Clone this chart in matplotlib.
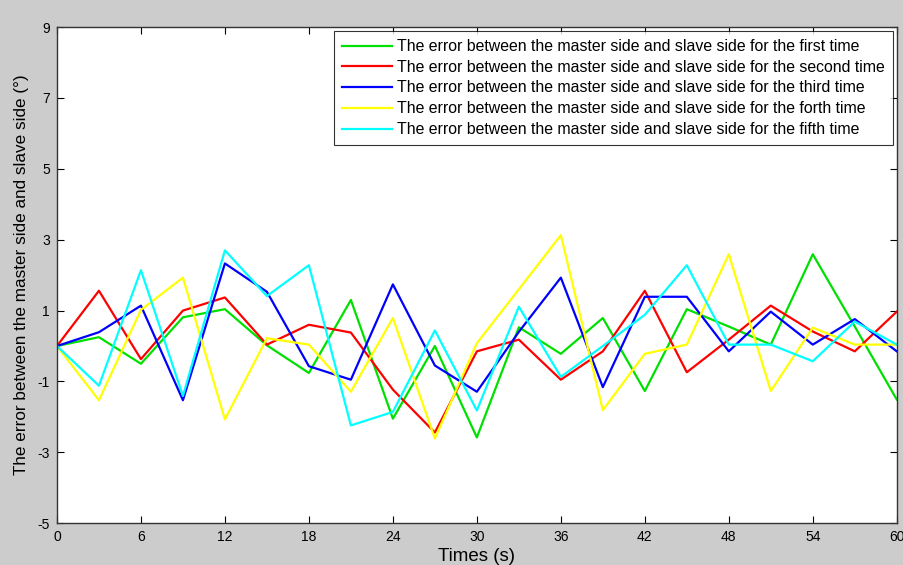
import matplotlib
matplotlib.use("Agg")
import matplotlib.pyplot as plt

plt.rcParams["font.family"] = ["Liberation Sans", "DejaVu Sans"]
plt.rcParams["axes.unicode_minus"] = False

times = [0, 3, 6, 9, 12, 15, 18, 21, 24, 27, 30, 33, 36, 39, 42, 45, 48, 51, 54, 57, 60]

err_first = [0, 0.25, -0.5, 0.81, 1.04, 0.02, -0.76, 1.3, -2.05, 0, -2.58, 0.53, -0.22, 0.79, -1.27,
             1.04, 0.55, 0.04, 2.59, 0.55, -1.51]
err_second = [0, 1.56, -0.37, 1.0, 1.37, 0.04, 0.6, 0.38, -1.23, -2.44, -0.15, 0.18, -0.95, -0.15, 1.56,
              -0.74, 0.18, 1.14, 0.41, -0.15, 0.97]
err_third = [0, 0.39, 1.14, -1.53, 2.33, 1.53, -0.57, -0.95, 1.74, -0.55, -1.29, 0.4, 1.93, -1.16, 1.39,
             1.39, -0.15, 0.97, 0.04, 0.76, -0.15]
err_fourth = [0, -1.53, 1.02, 1.93, -2.07, 0.22, 0.04, -1.29, 0.79, -2.61, 0.08, 1.6, 3.13, -1.81, -0.22,
              0.04, 2.59, -1.27, 0.52, 0.04, 0.04]
err_fifth = [0, -1.12, 2.14, -1.41, 2.7, 1.41, 2.28, -2.24, -1.86, 0.44, -1.82, 1.11, -0.87, 0.0, 0.88,
             2.28, 0.04, 0.04, -0.43, 0.69, 0.04]

series = [
    ("The error between the master side and slave side for the first time", err_first, "#00e000"),
    ("The error between the master side and slave side for the second time", err_second, "#ff0000"),
    ("The error between the master side and slave side for the third time", err_third, "#0000ff"),
    ("The error between the master side and slave side for the forth time", err_fourth, "#ffff00"),
    ("The error between the master side and slave side for the fifth time", err_fifth, "#00ffff"),
]

fig = plt.figure(figsize=(9.04, 5.65), dpi=100, facecolor="#cccccc")
ax = fig.add_axes([0.063, 0.074, 0.929, 0.878])
ax.set_facecolor("white")

for label, vals, color in series:
    ax.plot(times, vals, color=color, linewidth=1.6, label=label)

ax.set_xlim(0, 60)
ax.set_ylim(-5, 9)
ax.set_xticks(range(0, 61, 6))
ax.set_yticks(range(-5, 10, 2))
ax.tick_params(direction="in", top=True, right=True, labelsize=10, length=5, pad=5)
for s in ax.spines.values():
    s.set_color("#333333")
    s.set_linewidth(1.0)

ax.set_xlabel("Times (s)", fontsize=13.5, labelpad=3)
ax.set_ylabel("The error between the master side and slave side (°)", fontsize=12.3, labelpad=6)

leg = ax.legend(loc="upper right", fontsize=11.45, handlelength=3.1, frameon=True, fancybox=False,
                edgecolor="black", borderaxespad=0.25, labelspacing=0.36, handletextpad=0.35,
                borderpad=0.5, handleheight=0.6)
leg.get_frame().set_linewidth(0.8)

fig.savefig("out.png", dpi=100, facecolor=fig.get_facecolor())
